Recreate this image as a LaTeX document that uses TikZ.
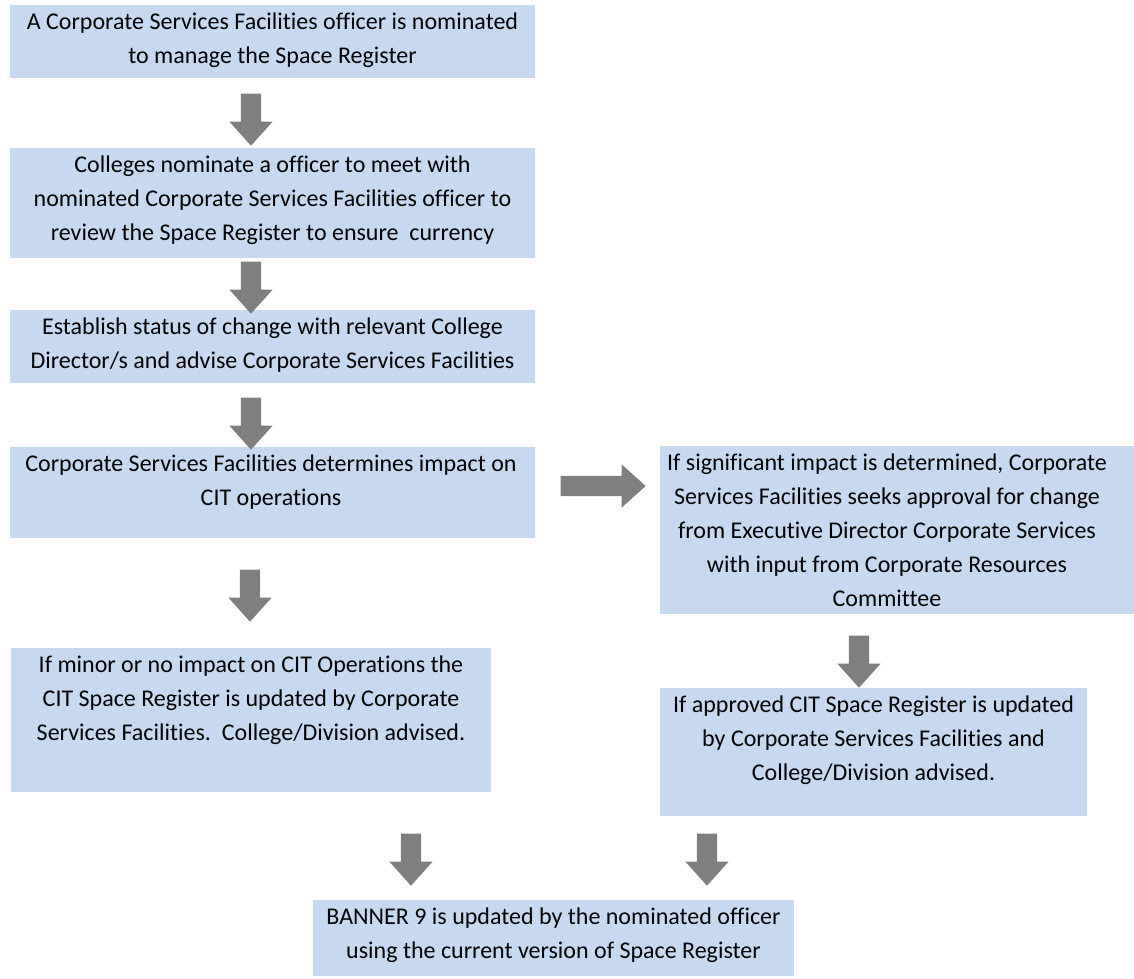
\documentclass[tikz,border=0pt]{standalone}
\usepackage{fontspec}
\setmainfont{Carlito}[Ligatures={NoCommon,NoRare,NoContextual},RawFeature={-liga;-clig;-dlig;-calt}]
\usetikzlibrary{shapes.arrows}
\definecolor{boxblue}{HTML}{C6D9F1}
\definecolor{arrgray}{HTML}{7F7F7F}
\tikzset{
  box/.style={fill=boxblue, draw=none, inner sep=0pt, anchor=north west},
  txt/.style={anchor=north, align=center, inner sep=0pt, text=black,
    font=\fontsize{24}{34}\selectfont},
  blockarrow/.style={single arrow, fill=arrgray, draw=none, inner xsep=0pt,
    inner ysep=10pt, single arrow head extend=11.5pt, single arrow tip angle=84,
    single arrow head indent=0pt, minimum height=52pt},
}
\begin{document}
\begin{tikzpicture}[x=1pt,y=-1pt]
\useasboundingbox (0,0) rectangle (1134,978);
% boxes
\node[box, minimum width=525pt, minimum height=73pt]  (b1) at (10,5) {};
\node[box, minimum width=525pt, minimum height=110pt] (b2) at (10,148) {};
\node[box, minimum width=525pt, minimum height=73pt]  (b3) at (10,310) {};
\node[box, minimum width=525pt, minimum height=91pt]  (b4) at (10,447) {};
\node[box, minimum width=474pt, minimum height=168pt] (b5) at (660,446) {};
\node[box, minimum width=480pt, minimum height=144pt] (b6) at (11,648) {};
\node[box, minimum width=427pt, minimum height=128pt] (b7) at (660,688) {};
\node[box, minimum width=481pt, minimum height=76pt]  (b8) at (313,900) {};
% texts
\node[txt] (t1) at (272.5,5) {\strut A Corporate Services Facilities officer is nominated\\ to manage the Space Register};
\node[txt] (t2) at (272.5,148) {\strut Colleges nominate a officer to meet with\\ nominated Corporate Services Facilities officer to\\ review the Space Register to ensure\ \ currency};
\node[txt] (t3) at (272.5,310) {\strut Establish status of change with relevant College\\ Director/s and advise Corporate Services Facilities};
\node[txt] (t4) at (271,447) {\strut Corporate Services Facilities determines impact on\\ CIT operations};
\node[txt] (t5) at (887,446) {\strut If significant impact is determined, Corporate\\ Services Facilities seeks approval for change\\ from Executive Director Corporate Services\\ with input from Corporate Resources\\ Committee};
\node[txt] (t6) at (251,648) {\strut If minor or no impact on CIT Operations the\\ CIT Space Register is updated by Corporate\\ Services Facilities.\ \ College/Division advised.};
\node[txt] (t7) at (873.5,688) {\strut If approved CIT Space Register is updated\\ by Corporate Services Facilities and\\ College/Division advised.};
\node[txt] (t8) at (553.5,900) {\strut BANNER 9 is updated by the nominated officer\\ using the current version of Space Register};
% block arrows
\node[blockarrow, rotate=-90] (a1) at (251,114) {};
\node[blockarrow, rotate=-90] (a2) at (251,282) {};
\node[blockarrow, rotate=-90] (a3) at (251,418) {};
\node[blockarrow, rotate=-90] (a4) at (250,590) {};
\node[blockarrow, minimum height=85pt] (a5) at (597.5,486) {};
\node[blockarrow, rotate=-90] (a6) at (859,656) {};
\node[blockarrow, rotate=-90] (a7) at (411,854) {};
\node[blockarrow, rotate=-90] (a8) at (707,854) {};
\end{tikzpicture}
\end{document}
